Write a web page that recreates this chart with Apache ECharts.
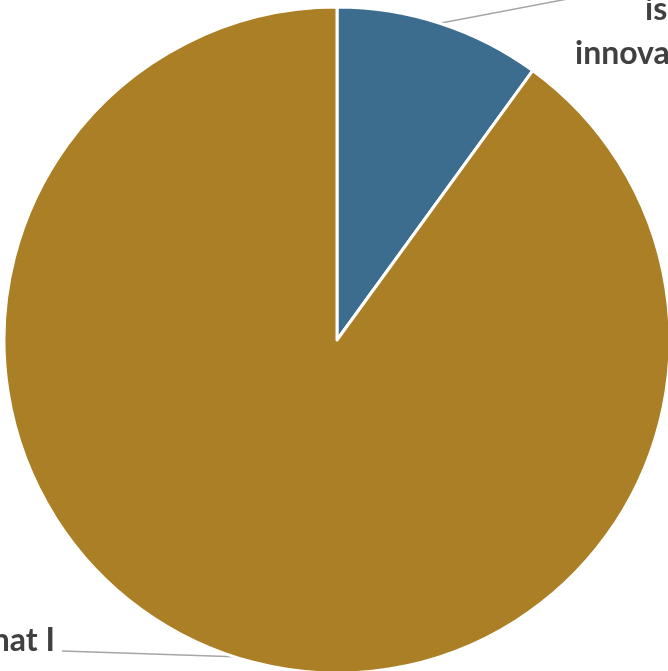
<!DOCTYPE html>
<html>
<head>
<meta charset="utf-8">
<script src="https://cdn.jsdelivr.net/npm/echarts@6/dist/echarts.min.js"></script>
<style>
  html, body { margin: 0; padding: 0; background: #ffffff; }
  #chart { width: 668px; height: 671px; }
</style>
</head>
<body>
<div id="chart"></div>
<script>
// Response shares
const categories = ['is innovative', 'Not what I expected'];
const values = [10, 90];
const sliceColors = ['#3c6d8e', '#ab7f25'];

// Label text, split over lines as it is printed
const labelLines = [
  ['is', 'innovative'],
  ['Not what I', 'expected']
];

// Where each label sits and where its leader line ends
const labelSpots = [
  { x: 575, y: -12, align: 'left', lineEnd: [578, -3] },
  { x: 55, y: 619, align: 'right', lineEnd: [62, 651] }
];

const chart = echarts.init(document.getElementById('chart'), null, { renderer: 'canvas' });

chart.setOption({
  animation: false,
  series: [{
    type: 'pie',
    center: [337, 340],
    radius: 333,
    startAngle: 90,
    clockwise: true,
    avoidLabelOverlap: false,
    data: categories.map((name, i) => ({
      name,
      value: values[i],
      itemStyle: { color: sliceColors[i] }
    })),
    itemStyle: { borderColor: '#ffffff', borderWidth: 3 },
    label: {
      show: true,
      position: 'outside',
      formatter: function (p) {
        const lines = labelLines[p.dataIndex];
        if (p.dataIndex === 0) {
          return '{first|' + lines[0] + '}\n{rest|' + lines[1] + '}';
        }
        return '{rest|' + lines.join('}\n{rest|') + '}';
      },
      fontFamily: 'Lato',
      fontWeight: 'bold',
      fontSize: 32,
      lineHeight: 44,
      color: '#404040',
      rich: {
        first: {
          fontFamily: 'Lato', fontWeight: 'bold', fontSize: 32, lineHeight: 44,
          color: '#404040', padding: [0, 0, 0, 70]
        },
        rest: {
          fontFamily: 'Lato', fontWeight: 'bold', fontSize: 32, lineHeight: 44,
          color: '#404040'
        }
      }
    },
    labelLine: {
      show: true,
      length: 20,
      length2: 20,
      lineStyle: { color: '#a6a6a6', width: 1.5 }
    },
    labelLayout: function (params) {
      const spot = labelSpots[params.dataIndex];
      const start = params.labelLinePoints ? params.labelLinePoints[0] : spot.lineEnd;
      return {
        x: spot.x,
        y: spot.y,
        align: spot.align,
        verticalAlign: 'top',
        labelLinePoints: [start, start, spot.lineEnd]
      };
    },
    emphasis: { disabled: true }
  }]
});
</script>
</body>
</html>
